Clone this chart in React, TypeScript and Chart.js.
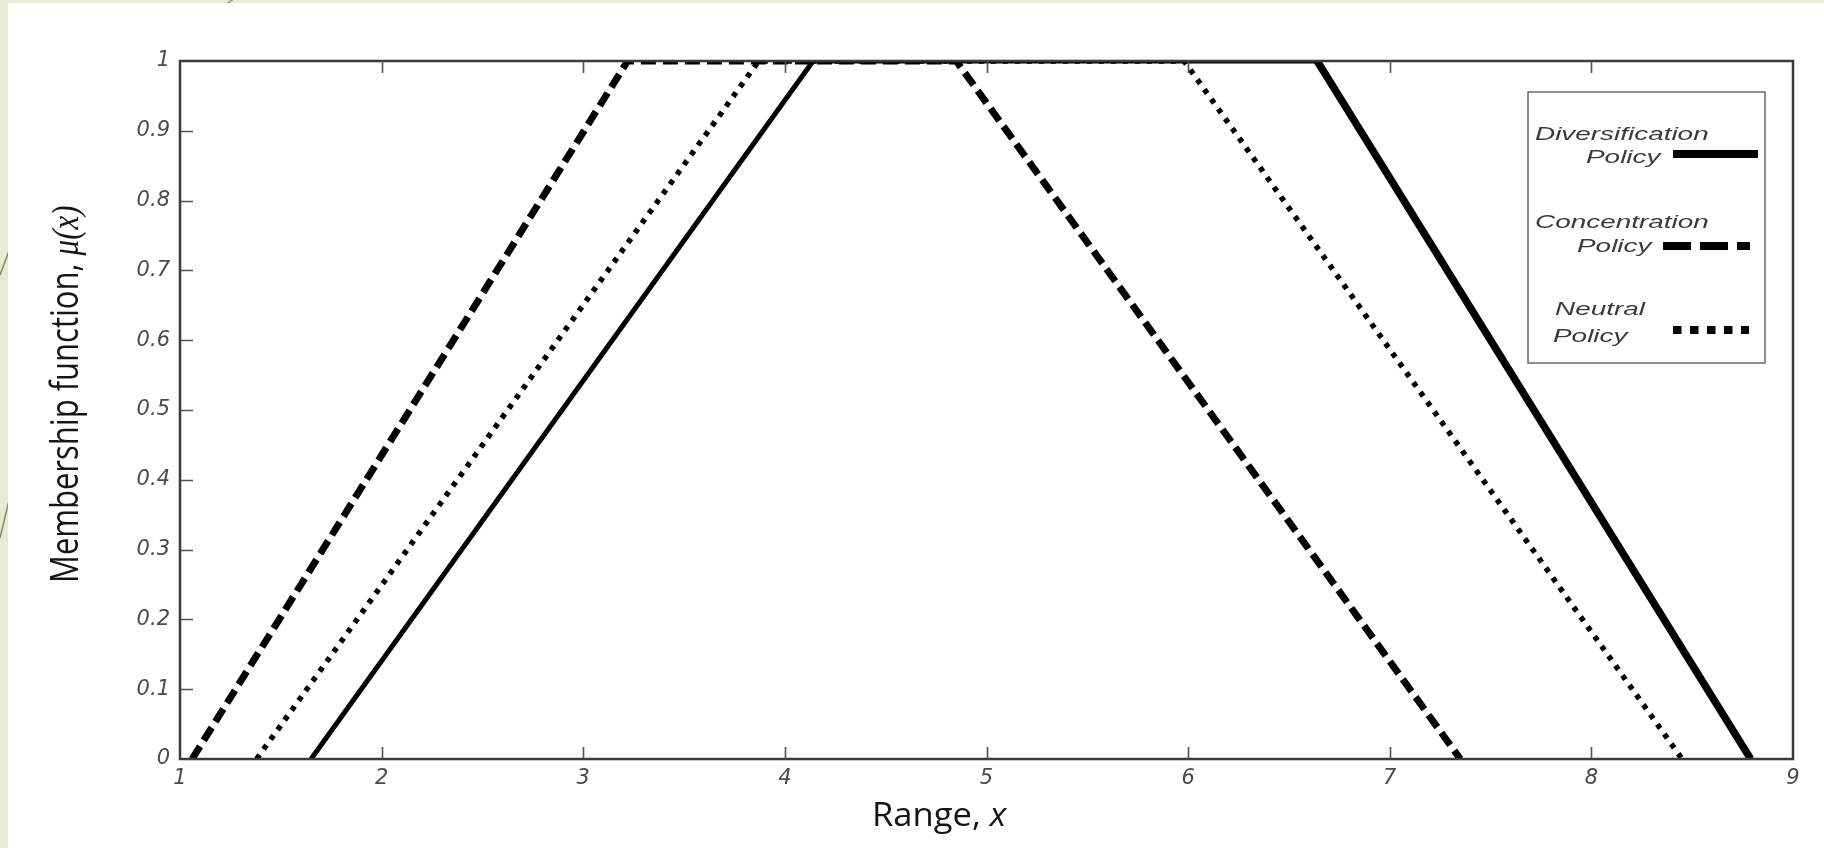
import React, { useEffect, useRef } from "react";
import { Chart, registerables } from "chart.js";

Chart.register(...registerables);

// ---- data ----
const seriesNames = ["Diversification Policy", "Concentration Policy", "Neutral Policy"];
const diversificationX = [1.65, 4.14, 6.64, 8.79];
const diversificationY = [0, 1, 1, 0];
const concentrationX = [1.06, 3.22, 4.85, 7.35];
const concentrationY = [0, 1, 1, 0];
const neutralX = [1.38, 3.87, 5.98, 8.45];
const neutralY = [0, 1, 1, 0];

const xTicks = [1, 2, 3, 4, 5, 6, 7, 8, 9];
const xTickLabels = ["1", "2", "3", "4", "5", "6", "7", "8", "9"];
const yTicks = [0, 0.1, 0.2, 0.3, 0.4, 0.5, 0.6, 0.7, 0.8, 0.9, 1];
const yTickLabels = ["0", "0.1", "0.2", "0.3", "0.4", "0.5", "0.6", "0.7", "0.8", "0.9", "1"];

const xTitleParts = ["Range, ", "x"];
const yTitleParts = ["Membership function, ", "\u03BC(x)"];

const toPoints = (xs: number[], ys: number[]) => xs.map((x, i) => ({ x, y: ys[i] }));

// ---- plugins ----
const framePlugin = {
  id: "frameTicks",
  afterDatasetsDraw(chart: any) {
    const { ctx, chartArea: a, scales } = chart;
    ctx.save();
    ctx.strokeStyle = "#3a3a3a";
    ctx.lineWidth = 2.5;
    ctx.strokeRect(a.left, a.top, a.right - a.left, a.bottom - a.top);
    ctx.strokeStyle = "#505050";
    ctx.lineWidth = 1.6;
    ctx.beginPath();
    xTicks.forEach((v, i) => {
      if (i === 0 || i === xTicks.length - 1) return;
      const px = Math.round(scales.x.getPixelForValue(v)) + 0.5;
      ctx.moveTo(px, a.bottom);
      ctx.lineTo(px, a.bottom - 12);
      ctx.moveTo(px, a.top);
      ctx.lineTo(px, a.top + 12);
    });
    yTicks.forEach((v, i) => {
      if (i === 0 || i === yTicks.length - 1) return;
      const py = Math.round(scales.y.getPixelForValue(v)) + 0.5;
      ctx.moveTo(a.left, py);
      ctx.lineTo(a.left + 13, py);
    });
    ctx.stroke();
    ctx.restore();
  },
};

const titlesPlugin = {
  id: "axisTitles",
  afterDraw(chart: any) {
    const { ctx } = chart;
    ctx.save();
    ctx.fillStyle = "#151515";
    // x title
    ctx.save();
    ctx.translate(872, 826);
    ctx.scale(1.08, 1);
    ctx.textBaseline = "alphabetic";
    ctx.textAlign = "left";
    ctx.font = "32px 'Open Sans'";
    ctx.fillText(xTitleParts[0], 0, 0);
    const w0 = ctx.measureText(xTitleParts[0]).width;
    ctx.font = "italic 32px 'Open Sans'";
    ctx.fillText(xTitleParts[1], w0, 0);
    ctx.restore();
    // y title
    ctx.save();
    ctx.translate(78, 583);
    ctx.rotate(-Math.PI / 2);
    ctx.scale(1, 1.25);
    ctx.textBaseline = "alphabetic";
    ctx.textAlign = "left";
    ctx.font = "31px 'Open Sans'";
    ctx.fillText(yTitleParts[0], 0, 0);
    const w1 = ctx.measureText(yTitleParts[0]).width;
    ctx.font = "italic 31px 'Liberation Serif'";
    ctx.fillText(yTitleParts[1], w1, 0);
    ctx.restore();
    ctx.restore();
  },
};

const legendPlugin = {
  id: "customLegend",
  afterDraw(chart: any) {
    const { ctx } = chart;
    ctx.save();
    ctx.fillStyle = "#ffffff";
    ctx.fillRect(1528, 92, 237, 271);
    ctx.strokeStyle = "#6a6a6a";
    ctx.lineWidth = 1.5;
    ctx.strokeRect(1528, 92, 237, 271);

    const layout = [
      { l1: [1535, 140], l2: [1586, 163], sample: [1673, 1758, 154], dash: [] as number[], width: 8 },
      { l1: [1535, 228], l2: [1577, 252], sample: [1663, 1750, 246], dash: [28, 9], width: 8 },
      { l1: [1555, 315], l2: [1553, 342], sample: [1673, 1749, 330], dash: [8.5, 8.5], width: 8 },
    ];
    seriesNames.forEach((name, i) => {
      const cut = name.lastIndexOf(" ");
      const first = name.slice(0, cut);
      const second = name.slice(cut + 1);
      const L = layout[i];
      ctx.fillStyle = "#3a3a3a";
      ctx.font = "italic 18px 'Liberation Sans'";
      ctx.textBaseline = "alphabetic";
      ctx.textAlign = "left";
      ctx.save();
      ctx.translate(L.l1[0], L.l1[1]);
      ctx.scale(1.55, 1);
      ctx.fillText(first, 0, 0);
      ctx.restore();
      ctx.save();
      ctx.translate(L.l2[0], L.l2[1]);
      ctx.scale(1.55, 1);
      ctx.fillText(second, 0, 0);
      ctx.restore();
      ctx.strokeStyle = "#000000";
      ctx.lineWidth = L.width;
      ctx.lineCap = "butt";
      ctx.setLineDash(L.dash);
      ctx.beginPath();
      ctx.moveTo(L.sample[0], L.sample[2]);
      ctx.lineTo(L.sample[1], L.sample[2]);
      ctx.stroke();
      ctx.setLineDash([]);
    });
    ctx.restore();
  },
};

export default function App() {
  const canvasRef = useRef<HTMLCanvasElement | null>(null);

  useEffect(() => {
    if (!canvasRef.current) return;
    const tickFont = { family: "'DejaVu Sans'", size: 21, style: "italic" as const };
    const chart = new Chart(canvasRef.current, {
      type: "line",
      data: {
        datasets: [
          {
            label: seriesNames[0],
            data: toPoints(diversificationX, diversificationY),
            borderColor: "#000000",
            borderWidth: 5,
            pointRadius: 0,
            tension: 0,
            clip: 0,
            segment: {
              borderWidth: (c: any) => (c.p0DataIndex === 2 ? 7.5 : 5),
            },
          } as any,
          {
            label: seriesNames[1],
            data: toPoints(concentrationX, concentrationY),
            borderColor: "#000000",
            borderWidth: 7,
            borderDash: [15, 7],
            borderCapStyle: "butt",
            pointRadius: 0,
            tension: 0,
            clip: 0,
          } as any,
          {
            label: seriesNames[2],
            data: toPoints(neutralX, neutralY),
            borderColor: "#000000",
            borderWidth: 5.5,
            borderDash: [5, 7],
            borderCapStyle: "butt",
            pointRadius: 0,
            tension: 0,
            clip: 0,
          } as any,
        ],
      },
      options: {
        responsive: false,
        animation: false,
        devicePixelRatio: 1,
        layout: { padding: { left: 0, top: 61, right: 31, bottom: 0 } },
        plugins: {
          legend: { display: false },
          tooltip: { enabled: false },
          title: { display: false },
        },
        scales: {
          x: {
            type: "linear",
            min: 1,
            max: 9,
            grid: { display: false, drawTicks: false },
            border: { display: false },
            afterBuildTicks: (s: any) => {
              s.ticks = xTicks.map((v) => ({ value: v }));
            },
            afterFit: (s: any) => {
              s.height = 89;
            },
            ticks: {
              autoSkip: false,
              maxRotation: 0,
              padding: 7,
              color: "#4a4a4a",
              font: tickFont,
              callback: (_v: any, i: number) => xTickLabels[i],
            },
          },
          y: {
            type: "linear",
            min: 0,
            max: 1,
            grid: { display: false, drawTicks: false },
            border: { display: false },
            afterBuildTicks: (s: any) => {
              s.ticks = yTicks.map((v) => ({ value: v }));
            },
            afterFit: (s: any) => {
              s.width = 180;
            },
            ticks: {
              autoSkip: false,
              padding: 10,
              color: "#4a4a4a",
              font: tickFont,
              callback: (_v: any, i: number) => yTickLabels[i],
            },
          },
        },
      } as any,
      plugins: [framePlugin, titlesPlugin, legendPlugin],
    });
    return () => chart.destroy();
  }, []);

  return (
    <div
      style={{
        position: "absolute",
        left: 0,
        top: 0,
        width: 1824,
        height: 848,
        overflow: "hidden",
        background: "#e7ebd4",
      }}
    >
      <svg
        width={1824}
        height={848}
        style={{ position: "absolute", left: 0, top: 0 }}
      >
        <line x1={0} y1={538} x2={12} y2={488} stroke="#8a876a" strokeWidth={1.5} />
        <line x1={0} y1={275} x2={12} y2={243} stroke="#8a876a" strokeWidth={1.5} />
        <line x1={222} y1={6} x2={236} y2={-2} stroke="#8a876a" strokeWidth={1.2} />
      </svg>
      <div
        style={{
          position: "absolute",
          left: 8,
          top: 3,
          width: 1816,
          height: 845,
          background: "#ffffff",
        }}
      />
      <canvas
        ref={canvasRef}
        width={1824}
        height={848}
        style={{ position: "absolute", left: 0, top: 0, width: 1824, height: 848 }}
      />
    </div>
  );
}
